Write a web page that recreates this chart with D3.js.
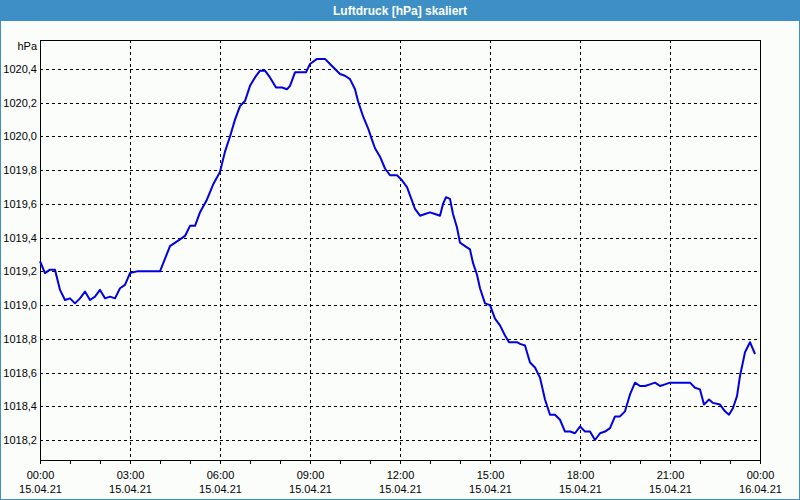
<!DOCTYPE html>
<html><head><meta charset="utf-8">
<script src="https://cdn.jsdelivr.net/npm/d3@7"></script>
<style>
html,body{margin:0;padding:0;background:#fff;}
svg{display:block;}
text{font-family:"Liberation Sans",Arial,sans-serif;}
</style></head>
<body>
<svg id="chart" width="800" height="500"></svg>
<script>
const title = "Luftdruck [hPa] skaliert";
const unitLabel = "hPa";
// minutes after 15.04.21 00:00
const minutes = [0,10,20,30,40,50,60,70,80,90,100,110,120,130,140,150,160,170,180,194,240,260,280,290,300,310,320,333,347,360,370,380,390,400,410,420,430,440,450,460,472,484,494,500,510,532,540,554,570,580,590,600,610,620,630,636,646,656,664,670,680,690,700,714,724,734,744,750,760,770,780,790,800,806,812,820,826,834,840,850,860,866,874,880,890,900,910,920,930,938,954,960,970,980,990,1000,1010,1020,1030,1040,1050,1060,1070,1080,1090,1100,1110,1120,1130,1140,1150,1160,1170,1180,1190,1200,1210,1220,1230,1240,1250,1260,1270,1300,1310,1320,1328,1338,1346,1360,1370,1378,1386,1394,1400,1410,1420,1430];
const pressure = [1019.26,1019.19,1019.21,1019.21,1019.09,1019.03,1019.04,1019.01,1019.04,1019.08,1019.03,1019.05,1019.09,1019.04,1019.05,1019.04,1019.10,1019.12,1019.19,1019.20,1019.20,1019.35,1019.39,1019.41,1019.47,1019.47,1019.55,1019.62,1019.72,1019.79,1019.91,1020.00,1020.10,1020.18,1020.21,1020.30,1020.35,1020.39,1020.39,1020.35,1020.29,1020.29,1020.28,1020.30,1020.38,1020.38,1020.43,1020.46,1020.46,1020.43,1020.40,1020.37,1020.36,1020.34,1020.28,1020.21,1020.12,1020.05,1019.98,1019.93,1019.88,1019.81,1019.77,1019.77,1019.74,1019.70,1019.62,1019.57,1019.53,1019.54,1019.55,1019.54,1019.53,1019.60,1019.64,1019.63,1019.54,1019.46,1019.37,1019.35,1019.33,1019.25,1019.18,1019.10,1019.01,1019.00,1018.92,1018.88,1018.82,1018.78,1018.78,1018.77,1018.76,1018.66,1018.63,1018.57,1018.44,1018.35,1018.35,1018.32,1018.25,1018.25,1018.24,1018.28,1018.25,1018.25,1018.20,1018.24,1018.25,1018.27,1018.34,1018.34,1018.37,1018.47,1018.54,1018.52,1018.52,1018.53,1018.54,1018.52,1018.53,1018.54,1018.54,1018.54,1018.51,1018.50,1018.41,1018.44,1018.42,1018.41,1018.37,1018.35,1018.39,1018.46,1018.58,1018.72,1018.78,1018.71];
const yTicks = [1018.2,1018.4,1018.6,1018.8,1019.0,1019.2,1019.4,1019.6,1019.8,1020.0,1020.2,1020.4];
const xTickHours = [0,3,6,9,12,15,18,21,24];

const svg = d3.select("#chart");
const W = 800, H = 500;
const plot = {l:40, r:760, t:40, b:460};
const t0 = new Date(2021,3,15,0,0);
const t1 = new Date(2021,3,16,0,0);

svg.append("rect").attr("x",0.5).attr("y",0.5).attr("width",W-1).attr("height",H-1)
  .attr("fill","#fbfdfb").attr("stroke","#3d8fc6").attr("stroke-width",1);
svg.append("rect").attr("x",0).attr("y",0).attr("width",W).attr("height",21).attr("fill","#3d8fc6");
svg.append("text").attr("x",400).attr("y",15).attr("text-anchor","middle")
  .attr("fill","#ffffff").attr("font-size","12px").attr("font-weight","bold").text(title);

const x = d3.scaleTime().domain([t0,t1]).range([plot.l, plot.r]);
const y = d3.scaleLinear().domain([1018.2,1020.4]).range([440,69]);

const fmtNum = v => d3.format(".1f")(v).replace(".", ",");

// horizontal grid
svg.append("g").selectAll("line").data(yTicks).join("line")
  .attr("x1",plot.l).attr("x2",plot.r)
  .attr("y1",d=>Math.round(y(d))+0.5).attr("y2",d=>Math.round(y(d))+0.5)
  .attr("stroke","#000").attr("stroke-dasharray","3,3").attr("stroke-width",1);
// vertical grid
const gridTimes = xTickHours.slice(1,-1).map(h=>d3.timeHour.offset(t0,h));
svg.append("g").selectAll("line").data(gridTimes).join("line")
  .attr("x1",d=>Math.round(x(d))+0.5).attr("x2",d=>Math.round(x(d))+0.5)
  .attr("y1",plot.t).attr("y2",plot.b)
  .attr("stroke","#000").attr("stroke-dasharray","3,3").attr("stroke-width",1);

// y labels
svg.append("g").selectAll("text").data(yTicks).join("text")
  .attr("x",37).attr("y",d=>Math.round(y(d))+4).attr("text-anchor","end")
  .attr("font-size","11px").attr("fill","#000").text(fmtNum);
svg.append("text").attr("x",37).attr("y",50).attr("text-anchor","end")
  .attr("font-size","11px").attr("fill","#000").text(unitLabel);

// x axis with hourly ticks
const xAxis = d3.axisBottom(x).ticks(d3.timeHour.every(1)).tickSize(4).tickFormat("");
const gx = svg.append("g").attr("transform",`translate(0,${plot.b})`).call(xAxis);
gx.select(".domain").remove();
gx.selectAll("line").attr("stroke","#000");

const majors = xTickHours.map(h=>d3.timeHour.offset(t0,h));
const fH = d3.timeFormat("%H:%M"), fD = d3.timeFormat("%d.%m.%y");
const lab = svg.append("g").selectAll("g").data(majors).join("g");
lab.append("text").attr("x",d=>x(d)+0.5).attr("y",479).attr("text-anchor","middle")
  .attr("font-size","11px").attr("fill","#000").text(fH);
lab.append("text").attr("x",d=>x(d)+0.5).attr("y",493).attr("text-anchor","middle")
  .attr("font-size","11px").attr("fill","#000").text(fD);

// frame
svg.append("rect").attr("x",plot.l+0.5).attr("y",plot.t+0.5)
  .attr("width",plot.r-plot.l).attr("height",plot.b-plot.t)
  .attr("fill","none").attr("stroke","#000").attr("stroke-width",1);

// line
const data = minutes.map((m,i)=>({t:d3.timeMinute.offset(t0,m), v:pressure[i]}));
const line = d3.line().x(d=>x(d.t)).y(d=>y(d.v));
svg.append("path").datum(data).attr("d",line)
  .attr("fill","none").attr("stroke","#0000e0").attr("stroke-width",2)
  .attr("stroke-linejoin","round");
</script>
</body></html>
